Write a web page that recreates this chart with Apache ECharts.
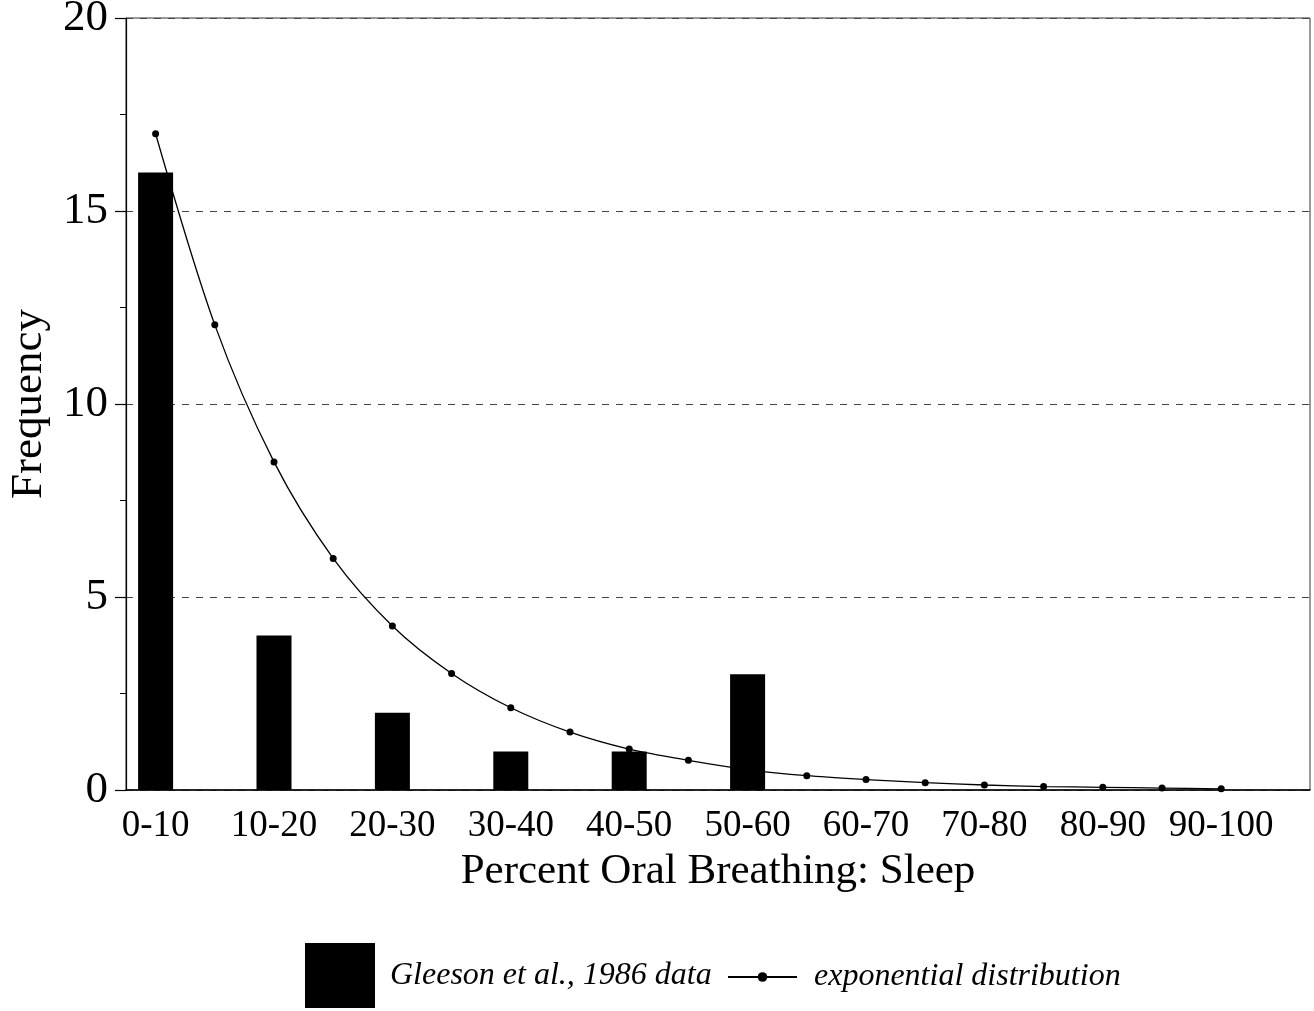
<!DOCTYPE html>
<html>
<head>
<meta charset="utf-8">
<script src="https://cdn.jsdelivr.net/npm/echarts@6/dist/echarts.min.js"></script>
<style>
  html, body { margin: 0; padding: 0; background: #fff; }
  #chart { width: 1314px; height: 1011px; }
</style>
</head>
<body>
<div id="chart"></div>
<script>
// ---- data ----
const binLabels = ['0-10', '10-20', '20-30', '30-40', '40-50', '50-60', '60-70', '70-80', '80-90', '90-100'];
const observedFreq = [16, 4, 2, 1, 1, 3, 0, 0, 0, 0];
// exponential distribution curve, sampled every half bin (19 points)
const expFreq = [17.0, 12.05, 8.5, 6.0, 4.25, 3.02, 2.13, 1.5, 1.06, 0.77, 0.53, 0.37, 0.27, 0.19, 0.13, 0.09, 0.07, 0.05, 0.03];
const yTicks = [0, 5, 10, 15, 20];
const seriesNames = ['Gleeson et al., 1986 data', 'exponential distribution'];

// x positions in "half-bin slot" units (20 slots across the plot)
const barData = observedFreq.map((v, k) => [2 * k + 0.5, v]);
const lineData = expFreq.map((v, i) => [i + 0.5, v]);
const labelPositions = binLabels.map((_, k) => 2 * k + 0.5);

const FONT = '"Liberation Serif", "DejaVu Serif", serif';

const chart = echarts.init(document.getElementById('chart'), null, { renderer: 'canvas' });
chart.setOption({
  backgroundColor: '#ffffff',
  animation: false,
  grid: {
    left: 126, right: 4, top: 18, bottom: 221,
    outerBoundsMode: 'none',
    containLabel: false,
    show: true, borderColor: '#333', borderWidth: 1, backgroundColor: 'transparent'
  },
  legend: [
    {
      data: [seriesNames[0]],
      left: 305, top: 943,
      padding: 0,
      itemWidth: 70, itemHeight: 65,
      icon: 'rect',
      textStyle: { fontFamily: FONT, fontStyle: 'italic', fontSize: 32, color: '#000', padding: [0, 0, 0, 10] }
    },
    {
      data: [seriesNames[1]],
      left: 727, top: 961,
      padding: 0,
      itemWidth: 69, itemHeight: 12,
      textStyle: { fontFamily: FONT, fontStyle: 'italic', fontSize: 32, color: '#000', padding: [0, 0, 0, 12] }
    }
  ],
  xAxis: {
    type: 'value',
    min: 0, max: 20,
    name: 'Percent Oral Breathing: Sleep',
    nameLocation: 'middle',
    nameGap: 58,
    nameTextStyle: { fontFamily: FONT, fontSize: 43, color: '#000' },
    axisLine: { show: true, lineStyle: { color: '#000', width: 1.5 } },
    axisTick: { show: false },
    splitLine: { show: false },
    axisLabel: {
      customValues: labelPositions,
      formatter: v => binLabels[Math.round((v - 0.5) / 2)],
      fontFamily: FONT, fontSize: 37, color: '#000', margin: 18
    }
  },
  yAxis: {
    type: 'value',
    min: 0, max: 20, interval: 5,
    name: 'Frequency',
    nameLocation: 'middle',
    nameGap: 73,
    nameTextStyle: { fontFamily: FONT, fontSize: 45, color: '#000' },
    axisLine: { show: true, lineStyle: { color: '#000', width: 1.2 } },
    axisTick: { show: true, length: 11, lineStyle: { color: '#000', width: 1.2 } },
    minorTick: { show: true, splitNumber: 2, length: 6, lineStyle: { color: '#000' } },
    axisLabel: {
      fontFamily: FONT, fontSize: 45, color: '#000', margin: 18,
      customValues: yTicks
    },
    splitLine: { show: true, lineStyle: { color: '#444', type: [7, 7], width: 1 } }
  },
  series: [
    {
      name: seriesNames[1],
      type: 'line',
      data: lineData,
      smooth: 0.3,
      symbol: 'circle',
      symbolSize: 7,
      lineStyle: { color: '#000', width: 1.3 },
      itemStyle: { color: '#000' },
      z: 2
    },
    {
      name: seriesNames[0],
      type: 'bar',
      data: barData,
      barWidth: 35,
      itemStyle: { color: '#000' },
      z: 3
    }
  ]
});
</script>
</body>
</html>
